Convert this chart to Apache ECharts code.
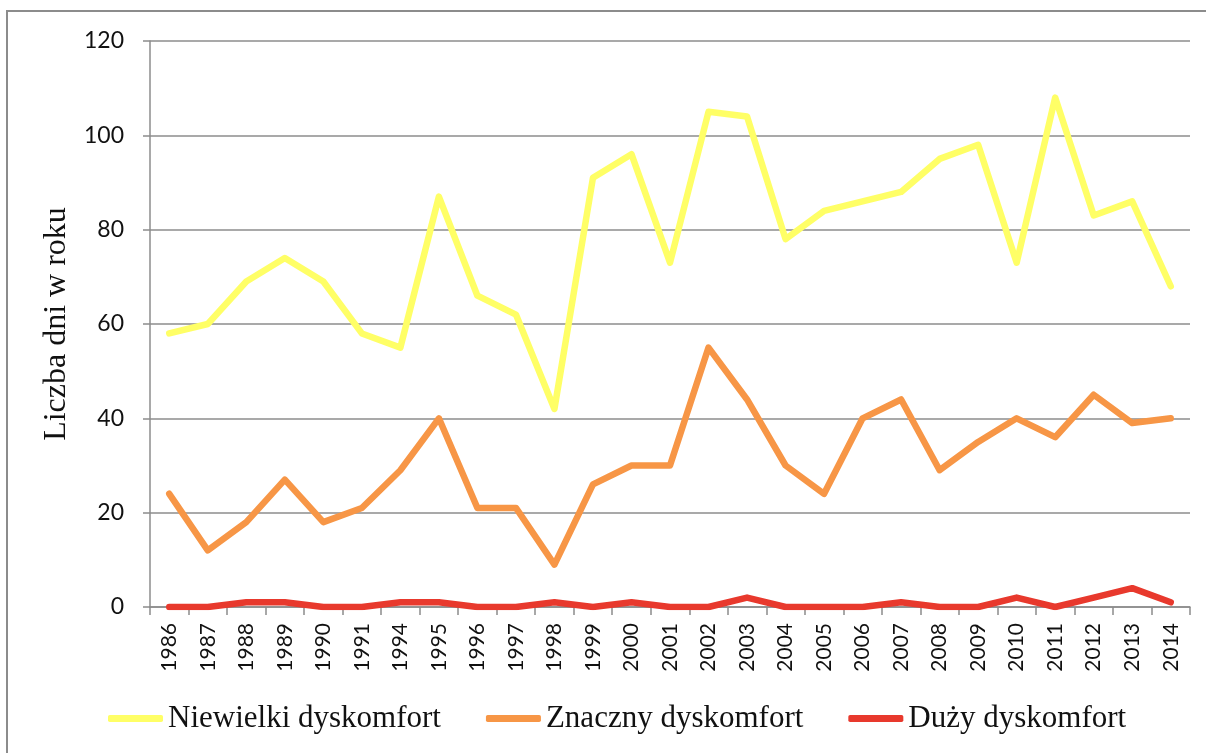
<!DOCTYPE html>
<html>
<head>
<meta charset="utf-8">
<script src="https://cdn.jsdelivr.net/npm/echarts@6/dist/echarts.min.js"></script>
<style>
  html, body { margin: 0; padding: 0; background: #fff; }
  #chart { width: 1206px; height: 753px; }
</style>
</head>
<body>
<div id="chart"></div>
<script>
// Years of observation (gap 1992–1993 not recorded)
const years = ['1986','1987','1988','1989','1990','1991','1994','1995','1996','1997','1998','1999','2000',
  '2001','2002','2003','2004','2005','2006','2007','2008','2009','2010','2011','2012','2013','2014'];

// Days per year in each discomfort class
const niewielki = [58,60,69,74,69,58,55,87,66,62,42,91,96,73,105,104,78,84,86,88,95,98,73,108,83,86,68];
const znaczny   = [24,12,18,27,18,21,29,40,21,21,9,26,30,30,55,44,30,24,40,44,29,35,40,36,45,39,40];
const duzy      = [0,0,1,1,0,0,1,1,0,0,1,0,1,0,0,2,0,0,0,1,0,0,2,0,2,4,1];

const seriesNames = ['Niewielki dyskomfort', 'Znaczny dyskomfort', 'Duży dyskomfort'];
const seriesColors = ['#FFFF66', '#F79646', '#E8392D'];

const chart = echarts.init(document.getElementById('chart'), null, { renderer: 'canvas' });

function lineSeries(name, data, color) {
  return {
    name: name,
    type: 'line',
    data: data,
    symbol: 'none',
    lineStyle: { color: color, width: 6.5, cap: 'round', join: 'round' },
    itemStyle: { color: color },
    emphasis: { disabled: true }
  };
}

chart.setOption({
  animation: false,
  graphic: [{
    type: 'rect',
    shape: { x: 7, y: 11, width: 1210, height: 760 },
    style: { fill: 'none', stroke: '#8c8c8c', lineWidth: 2 },
    silent: true
  }],
  grid: { left: 150, right: 16, top: 41, bottom: 146 },
  legend: {
    data: seriesNames,
    left: 108,
    top: 703,
    padding: 0,
    icon: 'roundRect',
    itemWidth: 55,
    itemHeight: 7,
    itemGap: 45,
    textStyle: { fontFamily: 'Liberation Serif', fontSize: 31, color: '#111' }
  },
  xAxis: {
    type: 'category',
    data: years,
    boundaryGap: true,
    axisLine: { lineStyle: { color: '#8c8c8c', width: 1.5 } },
    axisTick: { show: true, length: 8, lineStyle: { color: '#8c8c8c', width: 1.5 } },
    axisLabel: {
      rotate: 90,
      interval: 0,
      margin: 16,
      fontFamily: 'Lato',
      fontSize: 21,
      color: '#111'
    }
  },
  yAxis: {
    type: 'value',
    min: 0,
    max: 120,
    interval: 20,
    name: 'Liczba dni w roku',
    nameLocation: 'middle',
    nameGap: 77,
    nameTextStyle: { fontFamily: 'Liberation Serif', fontSize: 32, color: '#111' },
    axisLine: { show: true, lineStyle: { color: '#8c8c8c', width: 1.5 } },
    axisTick: { show: true, length: 7, lineStyle: { color: '#8c8c8c', width: 1.5 } },
    axisLabel: { fontFamily: 'Lato', fontSize: 23, color: '#111', margin: 26 },
    splitLine: { lineStyle: { color: '#8c8c8c', width: 1.5 } }
  },
  series: [
    lineSeries(seriesNames[0], niewielki, seriesColors[0]),
    lineSeries(seriesNames[1], znaczny, seriesColors[1]),
    lineSeries(seriesNames[2], duzy, seriesColors[2])
  ]
});
</script>
</body>
</html>
